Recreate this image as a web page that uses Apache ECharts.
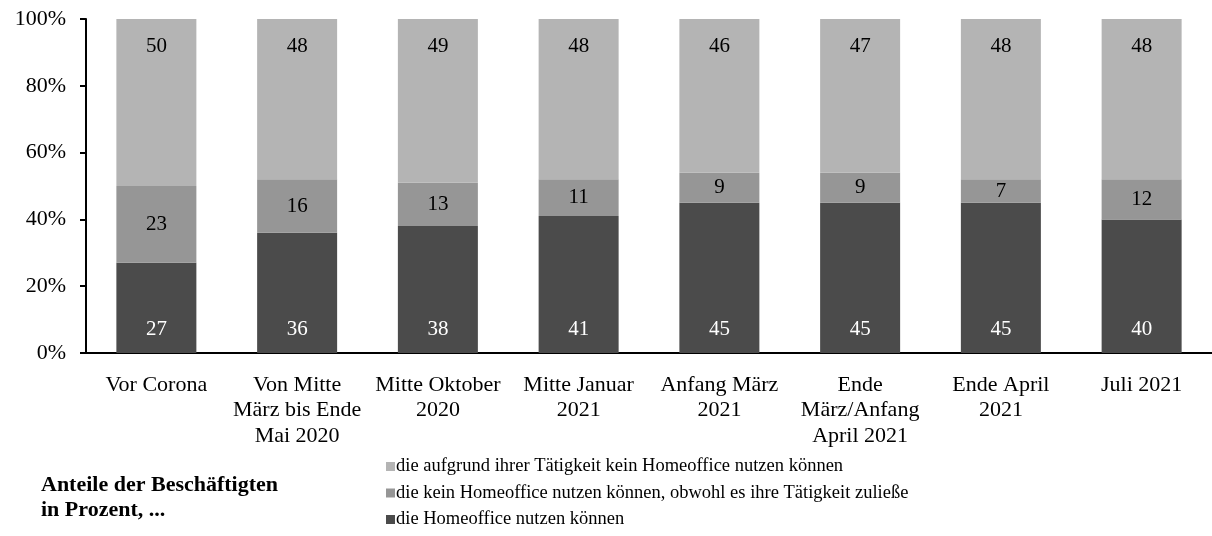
<!DOCTYPE html>
<html>
<head>
<meta charset="utf-8">
<script src="https://cdn.jsdelivr.net/npm/echarts@6/dist/echarts.min.js"></script>
<style>
  html, body { margin: 0; padding: 0; background: #fff; }
  #chart { width: 1212px; height: 536px; }
</style>
</head>
<body>
<div id="chart"></div>
<script>
// Erhebungszeitpunkte
const categories = [
  'Vor Corona',
  'Von Mitte\nMärz bis Ende\nMai 2020',
  'Mitte Oktober\n2020',
  'Mitte Januar\n2021',
  'Anfang März\n2021',
  'Ende\nMärz/Anfang\nApril 2021',
  'Ende April\n2021',
  'Juli 2021'
];

// Anteile in Prozent
const homeofficeNutzbar = [27, 36, 38, 41, 45, 45, 45, 40];
const keinHomeofficeTrotzTaetigkeit = [23, 16, 13, 11, 9, 9, 7, 12];
const keinHomeofficeTaetigkeit = [50, 48, 49, 48, 46, 47, 48, 48];

const yTicks = [0, 20, 40, 60, 80, 100];

const seriesNames = [
  'die aufgrund ihrer Tätigkeit kein Homeoffice nutzen können',
  'die kein Homeoffice nutzen können, obwohl es ihre Tätigkeit zuließe',
  'die Homeoffice nutzen können'
];

const FONT = '"Liberation Serif", "Times New Roman", serif';

const chart = echarts.init(document.getElementById('chart'));

function barSeries(name, data, color, labelColor, position, distance) {
  return {
    name: name,
    type: 'bar',
    stack: 'total',
    data: data,
    barWidth: 80,
    clip: true,
    itemStyle: { color: color },
    emphasis: { disabled: true },
    label: {
      show: true,
      position: position,
      distance: distance,
      color: labelColor,
      fontFamily: FONT,
      fontSize: 21
    }
  };
}

chart.setOption({
  animation: false,
  textStyle: { fontFamily: FONT },
  grid: { left: 86, right: -5, top: 19, bottom: 183, containLabel: false },
  title: {
    text: 'Anteile der Beschäftigten\nin Prozent, ...',
    left: 36,
    top: 468,
    textStyle: {
      fontFamily: FONT,
      fontSize: 22,
      fontWeight: 'bold',
      color: '#000',
      lineHeight: 25
    }
  },
  legend: {
    orient: 'vertical',
    left: 386,
    top: 457,
    padding: 0,
    itemWidth: 9,
    itemHeight: 9,
    itemGap: 7.5,
    icon: 'rect',
    data: seriesNames,
    textStyle: { fontFamily: FONT, fontSize: 18.5, color: '#000', padding: [0, 0, 0, -4] }
  },
  xAxis: {
    type: 'category',
    data: categories,
    axisLine: { lineStyle: { color: '#000', width: 2 } },
    axisTick: { show: false },
    axisLabel: {
      interval: 0,
      fontFamily: FONT,
      fontSize: 22,
      color: '#000',
      lineHeight: 25.5,
      margin: 19
    }
  },
  yAxis: {
    type: 'value',
    min: 0,
    max: 100,
    interval: 20,
    axisLine: { show: true, lineStyle: { color: '#000', width: 2 } },
    axisTick: { show: true, length: 6, lineStyle: { color: '#000', width: 2 } },
    splitLine: { show: false },
    axisLabel: {
      fontFamily: FONT,
      fontSize: 22,
      color: '#000',
      margin: 20,
      formatter: function (v) { return yTicks.indexOf(v) >= 0 ? v + '%' : ''; }
    }
  },
  series: [
    barSeries(seriesNames[2], homeofficeNutzbar, '#4b4b4b', '#fff', 'insideBottom', 13),
    barSeries(seriesNames[1], keinHomeofficeTrotzTaetigkeit, '#969696', '#000', 'inside', 0),
    barSeries(seriesNames[0], keinHomeofficeTaetigkeit, '#b4b4b4', '#000', 'insideTop', 17)
  ]
});
</script>
</body>
</html>
